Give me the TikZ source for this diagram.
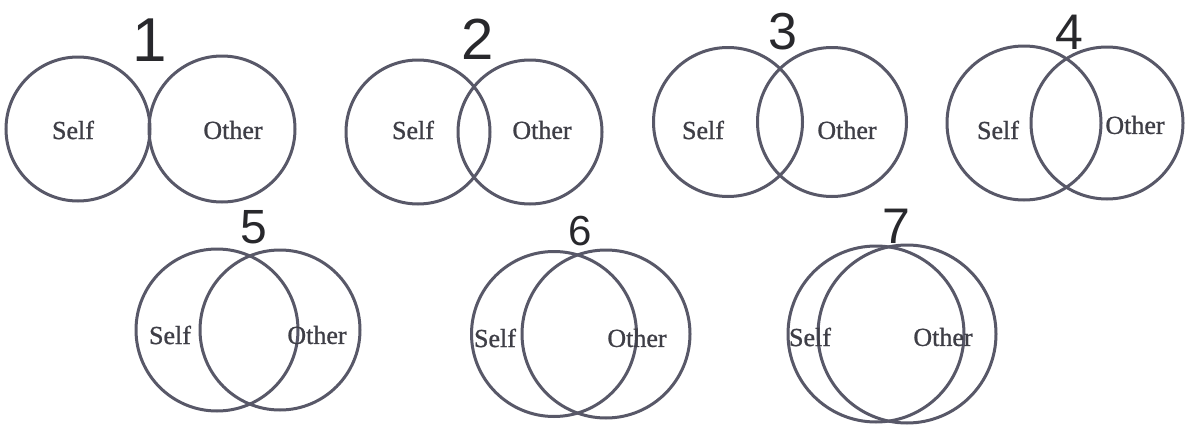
\documentclass[tikz,border=0pt]{standalone}
\usepackage{fontspec}
\setmainfont{Liberation Serif}
\newfontfamily\lblfont[FakeBold=0.9]{Liberation Serif}
\newfontfamily\numfont{Liberation Sans}
\definecolor{ringc}{RGB}{88,88,104}
\definecolor{txtc}{RGB}{62,62,70}
\definecolor{numc}{RGB}{40,40,44}
\tikzset{
  ring/.style={circle, draw=ringc, line width=3pt, inner sep=0pt, minimum size=#1},
  lbl/.style={text=txtc, inner sep=0pt, font=\lblfont\fontsize{26}{26}\selectfont},
  num/.style={text=numc, inner sep=0pt, font=\numfont\fontsize{#1}{#1}\selectfont},
}
\begin{document}
\begin{tikzpicture}[x=1pt,y=-1pt]
\useasboundingbox (0,0) rectangle (1189,431);
\fill[white] (0,0) rectangle (1189,431);
% pair 1
\node[ring=144pt] (s1) at (78,129) {};
\node[ring=146pt] (o1) at (222,129) {};
\node[lbl] (ls1) at (73,130) {Self};
\node[lbl] (lo1) at (233,130) {Other};
\node[num=62] (n1) at (150,40) {1};
% pair 2
\node[ring=144pt] (s2) at (418,132) {};
\node[ring=144pt] (o2) at (530,132) {};
\node[lbl] (ls2) at (413,130) {Self};
\node[lbl] (lo2) at (542,130) {Other};
\node[num=58] (n2) at (478,39) {2};
% pair 3
\node[ring=149pt] (s3) at (728,122) {};
\node[ring=149pt] (o3) at (832,122) {};
\node[lbl] (ls3) at (703,130) {Self};
\node[lbl] (lo3) at (847,130) {Other};
\node[num=52] (n3) at (783,32) {3};
% pair 4
\node[ring=154pt] (s4) at (1024,123) {};
\node[ring=152pt] (o4) at (1107,123) {};
\node[lbl] (ls4) at (998,130) {Self};
\node[lbl] (lo4) at (1135,125) {Other};
\node[num=50] (n4) at (1069,32) {4};
% pair 5
\node[ring=162pt] (s5) at (217,330) {};
\node[ring=160pt] (o5) at (280,330) {};
\node[lbl] (ls5) at (170,335) {Self};
\node[lbl] (lo5) at (317,335) {Other};
\node[num=48] (n5) at (254,227) {5};
% pair 6
\node[ring=165pt] (s6) at (554,334) {};
\node[ring=168pt] (o6) at (606,334) {};
\node[lbl] (ls6) at (495,338) {Self};
\node[lbl] (lo6) at (637,338) {Other};
\node[num=42] (n6) at (580,231) {6};
% pair 7
\node[ring=176pt] (s7) at (876,334) {};
\node[ring=178pt] (o7) at (907,334) {};
\node[lbl] (ls7) at (810,337) {Self};
\node[lbl] (lo7) at (943,337) {Other};
\node[num=50] (n7) at (896,226) {7};
\end{tikzpicture}
\end{document}
